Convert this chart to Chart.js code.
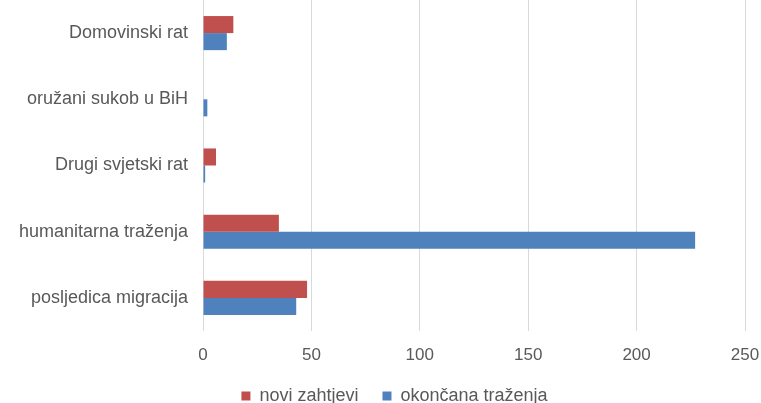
<!DOCTYPE html>
<html lang="hr">
<head>
<meta charset="UTF-8">
<title>traženja</title>
<style>
  html, body { margin: 0; padding: 0; background: #fff; }
  #wrap { width: 761px; height: 403px; position: relative; }
</style>
</head>
<body>
<div id="wrap">
  <canvas id="chart"></canvas>
</div>
<script src="https://cdn.jsdelivr.net/npm/chart.js"></script>
<script>
// categories, top to bottom
const categories = ['Domovinski rat', 'oružani sukob u BiH', 'Drugi svjetski rat', 'humanitarna traženja', 'posljedica migracija']
const seriesNames = ['novi zahtjevi', 'okončana traženja']
// values
const noviZahtjevi = [14, 0, 6, 35, 48]
const okoncanaTrazenja = [11, 2, 1, 227, 43]
const xTicks = [0, 50, 100, 150, 200, 250]

const textColor = '#595959'
const family = '"Liberation Sans", Arial, sans-serif'

// legend sits a bit right of the canvas centre in the original
const legendShift = {
  id: 'legendShift',
  afterLayout(chart) {
    chart.legend.left += 22
    chart.legend.right += 22
  }
}

const ctx = document.getElementById('chart').getContext('2d')
new Chart(ctx, {
  type: 'bar',
  data: {
    labels: categories,
    datasets: [
      {
        label: seriesNames[0],
        data: noviZahtjevi,
        backgroundColor: '#C0504D',
        categoryPercentage: 0.515,
        barPercentage: 1.0
      },
      {
        label: seriesNames[1],
        data: okoncanaTrazenja,
        backgroundColor: '#4F81BD',
        categoryPercentage: 0.515,
        barPercentage: 1.0
      }
    ]
  },
  plugins: [legendShift],
  options: {
    indexAxis: 'y',
    responsive: true,
    maintainAspectRatio: false,
    animation: false,
    layout: { padding: { top: 0, right: 16, left: 0, bottom: -12 } },
    scales: {
      x: {
        min: xTicks[0],
        max: xTicks[xTicks.length - 1],
        afterBuildTicks: axis => { axis.ticks = xTicks.map(v => ({ value: v })) },
        afterFit: axis => {
          axis.height = 32
          axis.paddingLeft = 0
          axis.paddingRight = 0
        },
        grid: { color: '#d9d9d9', drawTicks: false },
        border: { display: false },
        ticks: { color: textColor, font: { family: family, size: 17 }, padding: 14 }
      },
      y: {
        afterFit: axis => {
          axis.width = 203
          axis.paddingTop = 0
          axis.paddingBottom = 0
        },
        grid: { display: false, drawTicks: false },
        border: { display: false },
        ticks: { color: textColor, font: { family: family, size: 18 }, padding: 15 }
      }
    },
    plugins: {
      legend: {
        position: 'bottom',
        labels: {
          color: textColor,
          font: { family: family, size: 18 },
          boxWidth: 9,
          boxHeight: 9,
          padding: 24
        }
      },
      tooltip: { enabled: false }
    }
  }
})
</script>
</body>
</html>
